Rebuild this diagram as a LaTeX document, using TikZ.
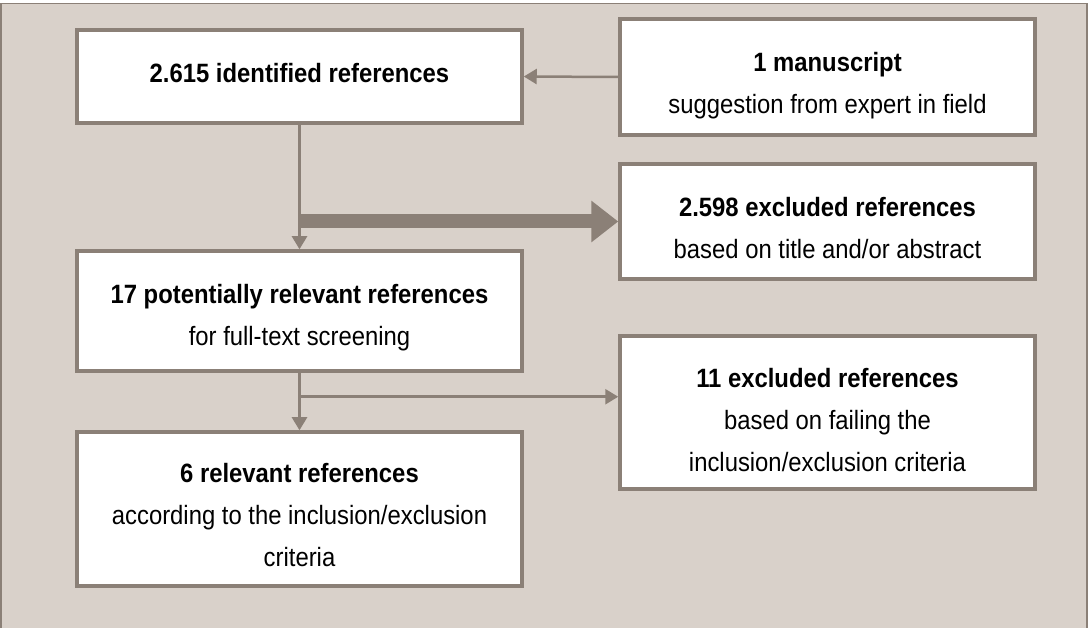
\documentclass[tikz,border=0pt]{standalone}
\usepackage{fontspec}
\setmainfont{Liberation Sans}[FakeStretch=0.9]
\usetikzlibrary{arrows.meta,calc}
\definecolor{bgc}{HTML}{D9D1CA}
\definecolor{edgec}{HTML}{8B8077}
\newcommand\myStrut[1]{\rule{0pt}{#1}}
\begin{document}
\begin{tikzpicture}[x=1pt,y=-1pt,
  box/.style={draw=edgec,line width=3.5pt,fill=white,inner sep=0pt,align=center,
    font=\fontsize{26.5}{42}\selectfont},
  conn/.style={draw=edgec,line width=2.5pt,-{Triangle[width=15pt,length=13pt]}},
  bigarrow/.style={draw=edgec,line width=14pt,-{Triangle[width=40pt,length=27pt]}}]
\useasboundingbox (0,0) rectangle (1088,628);
\fill[bgc] (1,3.5) rectangle (1087,640);
\draw[edgec,line width=1.5pt] (1,640) -- (1,3.5) -- (1087,3.5) -- (1087,640);
\node[box,minimum width=445pt,minimum height=93pt] (A) at (299.5,76.5) {\textbf{2.615 identified references}\rule[-8pt]{0pt}{8pt}};
\node[box,minimum width=415pt,minimum height=116pt] (B) at (827.5,77) {\myStrut{37.5pt}\textbf{1 manuscript}\\suggestion from expert in field};
\node[box,minimum width=415pt,minimum height=115pt] (C) at (827.5,221.5) {\myStrut{31.5pt}\textbf{2.598 excluded references}\\based on title and/or abstract};
\node[box,minimum width=445pt,minimum height=120pt] (D) at (299.5,311) {\myStrut{33.5pt}\textbf{17 potentially relevant references}\\for full-text screening};
\node[box,minimum width=415pt,minimum height=153pt] (E) at (827.5,412.5) {\myStrut{33.5pt}\textbf{11 excluded references}\\based on failing the\\inclusion/exclusion criteria};
\node[box,minimum width=445pt,minimum height=154pt] (F) at (299.5,509) {\myStrut{31.5pt}\textbf{6 relevant references}\\according to the inclusion/exclusion\\criteria};
\draw[conn] (B.west) -- (A.east);
\draw[conn] (A.south) -- (D.north);
\draw[bigarrow] (A.south |- C.west) -- (C.west);
\draw[conn] (D.south) -- (F.north);
\coordinate (br) at ($(D.south)+(0,24)$);
\draw[conn] (br) -- (br -| E.west);
\end{tikzpicture}
\end{document}
